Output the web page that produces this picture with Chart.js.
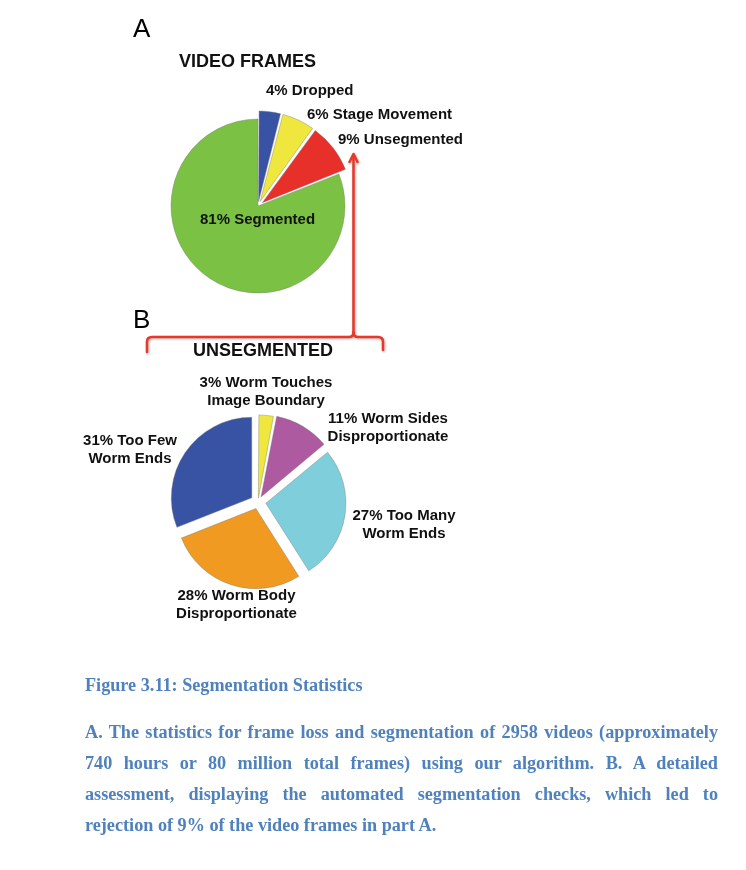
<!DOCTYPE html>
<html><head><meta charset="utf-8">
<script src="https://cdn.jsdelivr.net/npm/chart.js@4.4.1/dist/chart.umd.min.js"></script>
<style>
html,body{margin:0;padding:0;background:#fff;width:746px;height:870px;overflow:hidden;}
#stage{position:relative;width:746px;height:870px;}
.lbl{position:absolute;font-family:"Liberation Sans",Arial,sans-serif;font-weight:bold;color:#111;white-space:nowrap;}
.panel{position:absolute;font-family:"Liberation Sans",Arial,sans-serif;color:#000;white-space:nowrap;}
.cap{position:absolute;left:85px;width:633px;font-family:"Liberation Serif","Times New Roman",serif;font-weight:bold;color:#4f81bd;white-space:nowrap;}
canvas{position:absolute;}
</style></head><body><div id="stage">
<canvas id="pieA" width="220" height="220" style="left:148px;top:96px"></canvas>
<canvas id="pieB" width="200" height="200" style="left:158px;top:402px"></canvas>
<svg width="746" height="870" style="position:absolute;left:0;top:0;">
  <defs><filter id="sh" x="-10%" y="-10%" width="130%" height="130%"><feDropShadow dx="1" dy="1" stdDeviation="0.8" flood-color="#777" flood-opacity="0.55"/></filter></defs>
  <g stroke="#e8392b" stroke-width="2.6" fill="none" stroke-linecap="round" stroke-linejoin="round" filter="url(#sh)">
    <path d="M147,352 L147,342 Q147,337 152,337 L349,337 Q353.5,337 353.5,332 Q353.5,337 358,337 L378,337 Q383,337 383,342 L383,350"/>
    <path d="M353.5,333 L353.5,156"/>
    <path d="M349.5,162 L353.5,154 L357.5,162"/>
  </g>
</svg>
</div>
<script>
// ---- data ----
const framesCategories = ['Dropped', 'Stage Movement', 'Unsegmented', 'Segmented'];
const framesValues = [4, 6, 9, 81];
const framesColors = ['#3953a4', '#efe73d', '#e8302a', '#7bc143'];

const unsegCategories = [['Worm Touches', 'Image Boundary'], ['Worm Sides', 'Disproportionate'], ['Too Many', 'Worm Ends'], ['Worm Body', 'Disproportionate'], ['Too Few', 'Worm Ends']];
const unsegValues = [3, 11, 27, 28, 31];
const unsegColors = ['#efe73d', '#ad5aa0', '#7ecfdb', '#f09a21', '#3953a4'];

const titleA = 'VIDEO FRAMES';
const titleB = 'UNSEGMENTED';
const captionTitle = 'Figure 3.11: Segmentation Statistics';
const captionLines = [
  'A. The statistics for frame loss and segmentation of 2958 videos (approximately',
  '740 hours or 80 million total frames) using our algorithm. B. A detailed',
  'assessment, displaying the automated segmentation checks, which led to',
  'rejection of 9% of the video frames in part A.'
];

// ---- layout (positions / styles only) ----
const framesLabelPos = [[266, 95], [307, 119], [338, 144], [200, 224]];
const unsegLabelPos = [[266, 387], [388, 423], [404, 520], [236.5, 600], [130, 445]];
const framesExplodePx = [8, 8, 8, 0];
const unsegExplodePx = [7, 8, 8, 7, 8];

// Chart.js v4 arc moves by offset/4*(2 - sin(angle)); convert wanted pixel shift to option value
function offsetsFor(values, px) {
  const total = values.reduce((a, b) => a + b, 0);
  return values.map((v, i) => {
    const ang = v / total * Math.PI * 2;
    const f = (2 - Math.sin(Math.min(Math.PI, ang))) / 4;
    return px[i] / f;
  });
}

const stage = document.getElementById('stage');
function addText(lines, x, baseline, opts) {
  const fs = opts.size, lh = opts.lh || fs * 1.17;
  const asc = opts.serif ? 0.891 : 0.905, cont = opts.serif ? 1.107 : 1.117;
  const d = document.createElement('div');
  d.className = opts.cls;
  d.style.fontSize = fs + 'px';
  d.style.lineHeight = lh + 'px';
  d.style.top = (baseline - ((lh - cont * fs) / 2 + asc * fs)) + 'px';
  d.style.left = x + 'px';
  if (opts.align === 'center') {
    d.style.transform = 'translateX(-50%)';
    d.style.textAlign = 'center';
  }
  lines.forEach(t => {
    const s = document.createElement('div');
    s.textContent = t;
    d.appendChild(s);
  });
  stage.appendChild(d);
  return d;
}

addText(['A'], 133, 37, {cls: 'panel', size: 26});
addText(['B'], 133, 328, {cls: 'panel', size: 26});
addText([titleA], 179, 68, {cls: 'lbl', size: 18});
addText([titleB], 193, 357, {cls: 'lbl', size: 18});

framesCategories.forEach((c, i) => {
  addText([framesValues[i] + '% ' + c], framesLabelPos[i][0], framesLabelPos[i][1], {cls: 'lbl', size: 15});
});
unsegCategories.forEach((c, i) => {
  addText([unsegValues[i] + '% ' + c[0], c[1]], unsegLabelPos[i][0], unsegLabelPos[i][1], {cls: 'lbl', size: 15, lh: 17.5, align: 'center'});
});

addText([captionTitle], 85, 692, {cls: 'cap', size: 18.2, serif: true});
captionLines.forEach((t, i) => {
  const d = addText([t], 85, 739 + i * 31, {cls: 'cap', size: 18.2, serif: true});
  if (i < captionLines.length - 1) { d.style.textAlign = 'justify'; d.style.textAlignLast = 'justify'; d.firstChild.style.textAlignLast = 'justify'; }
});

// ---- charts ----
const common = {
  responsive: false, animation: false, devicePixelRatio: 1, events: [],
  layout: {padding: 0},
  plugins: {legend: {display: false}, tooltip: {enabled: false}}
};
new Chart(document.getElementById('pieA'), {
  type: 'pie',
  data: {labels: framesCategories, datasets: [{
    data: framesValues, backgroundColor: framesColors,
    borderColor: 'rgba(120,120,120,0.4)', borderWidth: 1,
    offset: offsetsFor(framesValues, framesExplodePx)
  }]},
  options: Object.assign({}, common, {radius: 87})
});
new Chart(document.getElementById('pieB'), {
  type: 'pie',
  data: {labels: unsegCategories.map(c => c.join(' ')), datasets: [{
    data: unsegValues, backgroundColor: unsegColors,
    borderColor: 'rgba(120,120,120,0.4)', borderWidth: 1,
    offset: offsetsFor(unsegValues, unsegExplodePx)
  }]},
  options: Object.assign({}, common, {radius: 80})
});
</script>
</body></html>
